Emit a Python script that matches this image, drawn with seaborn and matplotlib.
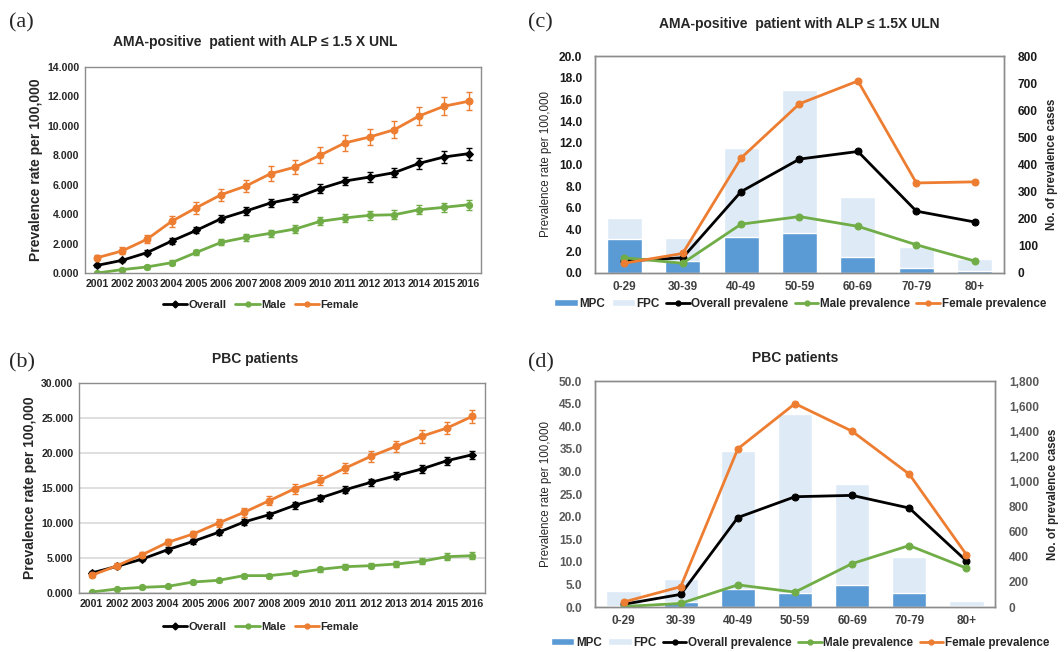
import numpy as np
import pandas as pd
import matplotlib
matplotlib.use("Agg")
import matplotlib.pyplot as plt
import seaborn as sns
from matplotlib.ticker import FormatStrFormatter, StrMethodFormatter
from matplotlib.patches import Patch
from matplotlib.lines import Line2D

# ---- data ----
years = list(range(2001, 2017))

# (a) AMA-positive, ALP <= 1.5 x ULN, by year
a_overall = [0.52, 0.86, 1.38, 2.17, 2.90, 3.69, 4.21, 4.76, 5.10, 5.73, 6.25, 6.52, 6.82, 7.45, 7.88, 8.11]
a_male = [0.00, 0.23, 0.41, 0.70, 1.40, 2.08, 2.42, 2.70, 2.99, 3.51, 3.74, 3.92, 3.96, 4.30, 4.46, 4.64]
a_female = [1.04, 1.50, 2.29, 3.51, 4.44, 5.32, 5.91, 6.75, 7.20, 8.00, 8.84, 9.24, 9.74, 10.67, 11.33, 11.67]
a_overall_err = [0.10, 0.12, 0.15, 0.18, 0.20, 0.22, 0.25, 0.27, 0.28, 0.30, 0.30, 0.32, 0.33, 0.36, 0.38, 0.40]
a_male_err = [0.05, 0.10, 0.12, 0.15, 0.18, 0.20, 0.22, 0.24, 0.26, 0.28, 0.30, 0.30, 0.30, 0.32, 0.33, 0.35]
a_female_err = [0.15, 0.24, 0.28, 0.37, 0.40, 0.40, 0.44, 0.49, 0.50, 0.53, 0.53, 0.57, 0.59, 0.59, 0.62, 0.62]

# (b) PBC patients, by year
b_overall = [2.86, 3.81, 4.86, 6.19, 7.38, 8.67, 10.14, 11.19, 12.52, 13.57, 14.76, 15.81, 16.76, 17.71, 18.90, 19.76]
b_male = [0.14, 0.57, 0.81, 0.95, 1.57, 1.81, 2.48, 2.48, 2.86, 3.38, 3.76, 3.90, 4.14, 4.52, 5.19, 5.33]
b_female = [2.52, 3.90, 5.48, 7.24, 8.43, 10.00, 11.52, 13.19, 14.90, 16.10, 17.86, 19.52, 20.95, 22.38, 23.57, 25.24]
b_overall_err = [0.30, 0.30, 0.32, 0.35, 0.38, 0.40, 0.42, 0.44, 0.46, 0.48, 0.50, 0.52, 0.54, 0.56, 0.58, 0.60]
b_male_err = [0.10, 0.15, 0.18, 0.20, 0.22, 0.25, 0.28, 0.30, 0.32, 0.34, 0.36, 0.38, 0.40, 0.42, 0.46, 0.50]
b_female_err = [0.30, 0.35, 0.40, 0.45, 0.50, 0.55, 0.60, 0.65, 0.70, 0.72, 0.76, 0.80, 0.84, 0.88, 0.92, 0.98]

# (c) AMA-positive by age group
age_groups = ["0-29", "30-39", "40-49", "50-59", "60-69", "70-79", "80+"]
c_mpc = [124, 44, 131, 147, 60, 17, 7]
c_fpc = [204, 130, 462, 675, 280, 95, 52]
c_overall = [1.1, 1.4, 7.5, 10.5, 11.2, 5.7, 4.7]
c_male = [1.4, 0.9, 4.5, 5.2, 4.3, 2.6, 1.1]
c_female = [0.9, 1.8, 10.6, 15.6, 17.7, 8.3, 8.4]

# (d) PBC by age group
d_mpc = [5, 36, 140, 108, 176, 115, 11]
d_fpc = [126, 220, 1242, 1540, 980, 400, 50]
d_overall = [0.6, 2.8, 19.8, 24.4, 24.7, 21.9, 10.2]
d_male = [0.1, 0.8, 4.9, 3.3, 9.6, 13.6, 8.6]
d_female = [1.1, 4.5, 35.0, 45.0, 38.9, 29.4, 11.6]

BLACK = "#000000"
GREEN = "#70AD47"
ORANGE = "#ED7D31"
MPC_COL = "#5B9BD5"
FPC_COL = "#DEEBF7"
SPINE = "#8C8C8C"

sns.set_style("white")
plt.rcParams['font.family'] = ['Liberation Sans', 'DejaVu Sans']

fig = plt.figure(figsize=(10.64, 6.52), dpi=100)


def style_box(ax):
    for s in ax.spines.values():
        s.set_color(SPINE)
        s.set_linewidth(1.0)
    ax.tick_params(length=0)


def year_panel(ax, overall, male, female, errs, ymax, step, grid):
    series = [(overall, errs[0], BLACK, "D", 4), (male, errs[1], GREEN, "o", 4.5), (female, errs[2], ORANGE, "o", 5)]
    for vals, err, col, mk, ms in series:
        ax.errorbar(years, vals, yerr=err, fmt="none", ecolor=col, elinewidth=1, capsize=2.5, capthick=1)
        sns.lineplot(x=years, y=vals, ax=ax, color=col, lw=2, marker=mk, markersize=ms,
                     markeredgecolor=col)
    ax.set_xlim(years[0] - 0.5, years[-1] + 0.5)
    ax.set_ylim(0, ymax)
    ax.set_yticks(np.arange(0, ymax + 0.01, step))
    ax.yaxis.set_major_formatter(FormatStrFormatter('%.3f'))
    ax.set_xticks(years)
    for lab in ax.get_xticklabels() + ax.get_yticklabels():
        lab.set_fontweight("bold")
    ax.tick_params(axis="x", labelsize=7.6, pad=4)
    ax.tick_params(axis="y", labelsize=7.6, pad=4)
    ax.set_ylabel("Prevalence rate per 100,000", fontsize=10, fontweight="bold", labelpad=3)
    if grid:
        ax.grid(axis="y", color="#D9D9D9", lw=1.2)
        ax.set_axisbelow(True)
    style_box(ax)


def line_handles(labels):
    hs = [Line2D([], [], color=BLACK, lw=2, marker="D", markersize=3.5),
          Line2D([], [], color=GREEN, lw=2, marker="o", markersize=3.5),
          Line2D([], [], color=ORANGE, lw=2, marker="o", markersize=3.5)]
    return hs, labels


# ---- (a) ----
ax_a = fig.add_axes([0.0799, 0.5813, 0.3722, 0.316])
year_panel(ax_a, a_overall, a_male, a_female, (a_overall_err, a_male_err, a_female_err), 14, 2, False)
fig.text(0.240, 0.935, "AMA-positive  patient with ALP \u2264 1.5 X UNL", fontsize=10, fontweight="bold",
         ha="center", va="center")
h, l = line_handles(["Overall", "Male", "Female"])
fig.legend(h, l, loc="center", bbox_to_anchor=(0.245, 0.532), ncol=3, frameon=False,
           prop={"weight": "bold", "size": 8}, handlelength=2.2, handletextpad=0.1, columnspacing=0.8)

# ---- (b) ----
ax_b = fig.add_axes([0.0742, 0.0905, 0.3816, 0.322])
year_panel(ax_b, b_overall, b_male, b_female, (b_overall_err, b_male_err, b_female_err), 30, 5, True)
fig.text(0.240, 0.449, "PBC patients", fontsize=10, fontweight="bold", ha="center", va="center")
h, l = line_handles(["Overall", "Male", "Female"])
fig.legend(h, l, loc="center", bbox_to_anchor=(0.245, 0.038), ncol=3, frameon=False,
           prop={"weight": "bold", "size": 8}, handlelength=2.2, handletextpad=0.1, columnspacing=0.8)


def age_panel(ax, mpc, fpc, overall, male, female, ymax, ystep, rmax, rstep, tick_col, rfmt):
    pos = np.arange(len(age_groups))
    ax2 = ax.twinx()
    sns.barplot(x=age_groups, y=fpc, ax=ax2, color=FPC_COL, width=0.6, saturation=1)
    sns.barplot(x=age_groups, y=mpc, ax=ax2, color=MPC_COL, width=0.6, saturation=1)
    for vals, col in [(overall, BLACK), (male, GREEN), (female, ORANGE)]:
        sns.lineplot(x=pos, y=vals, ax=ax, color=col, lw=2, marker="o", markersize=5,
                     markeredgecolor=col)
    ax.set_zorder(ax2.get_zorder() + 1)
    ax.patch.set_visible(False)
    ax.set_xlim(-0.5, len(age_groups) - 0.5)
    ax.set_xticks(pos)
    ax.set_xticklabels(age_groups)
    ax.set_ylim(0, ymax)
    ax.set_yticks(np.arange(0, ymax + 0.01, ystep))
    ax.yaxis.set_major_formatter(FormatStrFormatter('%.1f'))
    ax2.set_ylim(0, rmax)
    ax2.set_yticks(np.arange(0, rmax + 1, rstep))
    ax2.yaxis.set_major_formatter(StrMethodFormatter(rfmt))
    ax2.set_xlabel("")
    for lab in ax.get_yticklabels() + ax2.get_yticklabels():
        lab.set_fontweight("bold")
        lab.set_color(tick_col)
    for lab in ax.get_xticklabels():
        lab.set_fontweight("bold")
        lab.set_color("#404040")
    ax.tick_params(axis="x", labelsize=8.5, pad=6)
    ax.tick_params(axis="y", labelsize=8.6, pad=9)
    ax2.tick_params(axis="y", labelsize=8.6, pad=10, length=0)
    ax.set_ylabel("Prevalence rate per 100,000", fontsize=8.3, labelpad=5)
    ax2.set_ylabel("No. of prevalence cases", fontsize=8.3, fontweight="bold", labelpad=6)
    style_box(ax)
    style_box(ax2)
    return ax2


def age_legend(y, overall_label):
    hs = [Patch(facecolor=MPC_COL), Patch(facecolor=FPC_COL),
          Line2D([], [], color=BLACK, lw=2, marker="o", markersize=3.5),
          Line2D([], [], color=GREEN, lw=2, marker="o", markersize=3.5),
          Line2D([], [], color=ORANGE, lw=2, marker="o", markersize=3.5)]
    labs = ["MPC", "FPC", overall_label, "Male prevalence", "Female prevalence"]
    fig.legend(hs, labs, loc="center", bbox_to_anchor=(0.752, y), ncol=5, frameon=False,
               prop={"weight": "bold", "size": 8.4}, handlelength=2.0, handleheight=0.6,
               handletextpad=0.15, columnspacing=0.55)


# ---- (c) ----
ax_c = fig.add_axes([0.5592, 0.5813, 0.3844, 0.3328])
age_panel(ax_c, c_mpc, c_fpc, c_overall, c_male, c_female, 20, 2, 800, 100, "#1A1A1A", "{x:,.0f}")
ax_c.set_title("AMA-positive  patient with ALP \u2264 1.5X ULN", fontsize=10, fontweight="bold", pad=20)
age_legend(0.534, "Overall prevalene")

# ---- (d) ----
ax_d = fig.add_axes([0.5592, 0.069, 0.3759, 0.3466])
age_panel(ax_d, d_mpc, d_fpc, d_overall, d_male, d_female, 50, 5, 1800, 200, "#595959", "{x:,.0f}")
ax_d.set_title("PBC patients", fontsize=10, fontweight="bold", pad=14)
age_legend(0.014, "Overall prevalence")

# panel letters
for txt, x, y in [("(a)", 0.008, 0.965), ("(b)", 0.008, 0.443), ("(c)", 0.496, 0.965), ("(d)", 0.496, 0.443)]:
    fig.text(x, y, txt, fontsize=16, family=["Liberation Serif", "DejaVu Serif"], va="center", ha="left")

fig.savefig("out.png", dpi=100)
